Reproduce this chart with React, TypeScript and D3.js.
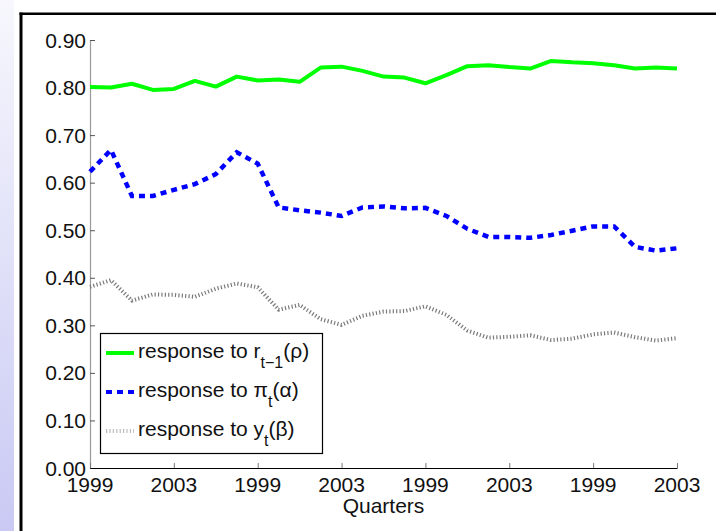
import React, { useEffect, useRef } from 'react'
import * as d3 from 'd3'

// quarterly estimates, 29 points (one per quarter)
const rhoValues = [0.801, 0.800, 0.808, 0.795, 0.797, 0.814, 0.802, 0.823, 0.815, 0.817, 0.812, 0.842, 0.844, 0.835, 0.823, 0.821, 0.809, 0.826, 0.845, 0.847, 0.843, 0.840, 0.856, 0.853, 0.851, 0.847, 0.840, 0.842, 0.840]
const alphaValues = [0.623, 0.669, 0.572, 0.572, 0.585, 0.597, 0.618, 0.664, 0.640, 0.548, 0.542, 0.537, 0.530, 0.548, 0.550, 0.546, 0.547, 0.530, 0.503, 0.486, 0.486, 0.484, 0.490, 0.499, 0.508, 0.508, 0.465, 0.457, 0.462]
const betaValues = [0.381, 0.395, 0.352, 0.365, 0.364, 0.360, 0.377, 0.388, 0.380, 0.333, 0.343, 0.313, 0.301, 0.320, 0.329, 0.330, 0.340, 0.322, 0.289, 0.274, 0.276, 0.279, 0.269, 0.272, 0.281, 0.285, 0.275, 0.268, 0.273]
const xTickLabels = ['1999', '2003', '1999', '2003', '1999', '2003', '1999', '2003']
const yTickValues = [0, 0.1, 0.2, 0.3, 0.4, 0.5, 0.6, 0.7, 0.8, 0.9]

const FONT = '"Liberation Sans", Arial, sans-serif'

function App() {
  const ref = useRef<SVGSVGElement>(null)

  useEffect(() => {
    const svg = d3.select(ref.current)
    svg.selectAll('*').remove()

    const W = 716, H = 531
    const left = 90, right = 677, top = 40, bottom = 468

    // slide background strip
    const grad = svg.append('defs').append('linearGradient')
      .attr('id', 'strip').attr('x1', 0).attr('y1', 0).attr('x2', 0).attr('y2', 1)
    grad.append('stop').attr('offset', '0%').attr('stop-color', '#f7f7fd')
    grad.append('stop').attr('offset', '100%').attr('stop-color', '#c9c9f4')
    svg.append('rect').attr('width', W).attr('height', H).attr('fill', '#fff')
    svg.append('rect').attr('x', 0).attr('y', 0).attr('width', 14).attr('height', H).attr('fill', 'url(#strip)')

    // figure frame
    svg.append('line').attr('x1', 21).attr('x2', 21).attr('y1', 12.5).attr('y2', H)
      .attr('stroke', '#000').attr('stroke-width', 3)
    svg.append('line').attr('x1', 19.5).attr('x2', W).attr('y1', 13.8).attr('y2', 13.8)
      .attr('stroke', '#000').attr('stroke-width', 2.5)

    const x = d3.scaleLinear().domain([0, rhoValues.length - 1]).range([left, right])
    const y = d3.scaleLinear().domain([0, 0.9]).range([bottom, top])

    // y axis
    const yAxis = svg.append('g')
      .attr('transform', `translate(${left},0)`)
      .call(d3.axisRight(y).tickValues(yTickValues).tickSize(5).tickFormat(() => ''))
    yAxis.select('.domain').attr('stroke', '#999').attr('stroke-width', 1.2)
    yAxis.selectAll('.tick line').attr('stroke', '#555')
    svg.append('g').selectAll('text')
      .data(yTickValues)
      .join('text')
      .attr('x', left - 4)
      .attr('y', d => y(d))
      .attr('dy', '0.36em')
      .attr('text-anchor', 'end')
      .attr('font-family', FONT)
      .attr('font-size', 21)
      .attr('fill', '#111')
      .text(d => d3.format('.2f')(d))

    // x axis
    const xTickIdx = xTickLabels.map((_, i) => i * 4)
    const xAxis = svg.append('g')
      .attr('transform', `translate(0,${bottom})`)
      .call(d3.axisTop(x).tickValues(xTickIdx).tickSize(5).tickSizeOuter(0).tickFormat(() => ''))
    xAxis.select('.domain').attr('stroke', '#000').attr('stroke-width', 1.2)
    xAxis.selectAll('.tick line').attr('stroke', '#777')
    svg.append('g').selectAll('text')
      .data(xTickIdx)
      .join('text')
      .attr('x', d => x(d))
      .attr('y', 492)
      .attr('text-anchor', 'middle')
      .attr('font-family', FONT)
      .attr('font-size', 21)
      .attr('fill', '#111')
      .text((d, i) => xTickLabels[i])

    svg.append('text')
      .attr('x', (left + right) / 2)
      .attr('y', 513)
      .attr('text-anchor', 'middle')
      .attr('font-family', FONT)
      .attr('font-size', 21)
      .attr('fill', '#111')
      .text('Quarters')

    const line = d3.line<number>().x((d, i) => x(i)).y(d => y(d))

    svg.append('path').datum(betaValues).attr('d', line)
      .attr('fill', 'none').attr('stroke', '#7a7a7a').attr('stroke-width', 4)
      .attr('stroke-dasharray', '1.2,2.2')
    svg.append('path').datum(alphaValues).attr('d', line)
      .attr('fill', 'none').attr('stroke', '#0000ff').attr('stroke-width', 4.5)
      .attr('stroke-dasharray', '6,5')
    svg.append('path').datum(rhoValues).attr('d', line)
      .attr('fill', 'none').attr('stroke', '#00ff00').attr('stroke-width', 4)
      .attr('stroke-linejoin', 'round')

    // legend
    const lg = svg.append('g')
    lg.append('rect').attr('x', 100.5).attr('y', 333.5).attr('width', 222).attr('height', 120)
      .attr('fill', '#fff').attr('stroke', '#000').attr('stroke-width', 1.2)

    const entries = [
      { main: 'r', sub: 't\u22121', greek: '(\u03c1)', color: '#00ff00', dash: null, width: 4, y: 353 },
      { main: '\u03c0', sub: 't', greek: '(\u03b1)', color: '#0000ff', dash: '6,5', width: 4, y: 392 },
      { main: 'y', sub: 't', greek: '(\u03b2)', color: '#bbb', dash: '1.2,2.2', width: 4, y: 431 },
    ]
    entries.forEach(e => {
      lg.append('line').attr('x1', 106).attr('x2', 134).attr('y1', e.y).attr('y2', e.y)
        .attr('stroke', e.color).attr('stroke-width', e.width)
        .attr('stroke-dasharray', e.dash)
      const t = lg.append('text')
        .attr('x', 138).attr('y', e.y + 5)
        .attr('font-family', FONT).attr('font-size', 21).attr('fill', '#111')
      t.append('tspan').text('response to ' + e.main)
      t.append('tspan').attr('dy', 10).attr('font-size', 16).text(e.sub)
      t.append('tspan').attr('dy', -10).text(e.greek)
    })
  }, [])

  return (
    <svg ref={ref} width={716} height={531}
      style={{ position: 'absolute', left: 0, top: 0, display: 'block' }} />
  )
}

export default App
